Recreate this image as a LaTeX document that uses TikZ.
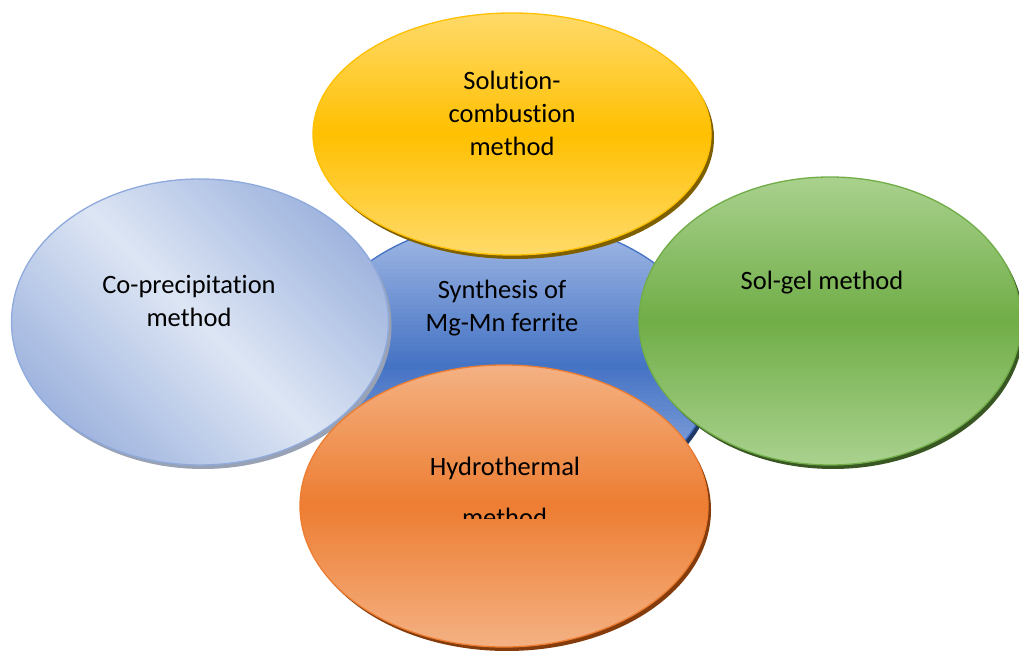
\documentclass[tikz,border=0pt]{standalone}
\usepackage{fontspec}
\setmainfont{Carlito}[Ligatures={NoCommon}]
\usetikzlibrary{shapes.geometric}
\definecolor{cbline}{HTML}{4472C4}
\definecolor{cbtop}{HTML}{A6BCE6}
\definecolor{cbmid}{HTML}{4472C4}
\definecolor{cbsh}{HTML}{203864}
\definecolor{lbline}{HTML}{8FAADC}
\definecolor{lbdark}{HTML}{9EB3DE}
\definecolor{lblight}{HTML}{DDE6F4}
\definecolor{lbsh}{HTML}{98A2B4}
\definecolor{yline}{HTML}{FFC000}
\definecolor{ytop}{HTML}{FFDA6A}
\definecolor{ymid}{HTML}{FFC000}
\definecolor{ysh}{HTML}{7F6000}
\definecolor{gline}{HTML}{70AD47}
\definecolor{gtop}{HTML}{A9D18E}
\definecolor{gmid}{HTML}{70AD47}
\definecolor{gsh}{HTML}{385723}
\definecolor{oline}{HTML}{ED7D31}
\definecolor{otop}{HTML}{F4B183}
\definecolor{omid}{HTML}{ED7D31}
\definecolor{osh}{HTML}{843C0C}
\tikzset{
  blob/.style={ellipse, inner sep=0pt, outer sep=0pt, line width=1.3pt},
  lbl/.style={font=\fontsize{26.5}{33}\selectfont, align=center, anchor=base, text=black, inner sep=0pt},
  shadowfill/.style={fill=#1, xshift=3pt, yshift=-4pt}
}
% vertical light-dark-light gradient inside an ellipse: cx, cy, rx, ry, outer colour, middle colour
\newcommand\myvgrad[6]{%
  \begin{scope}
    \clip (#1,#2) ellipse [x radius=#3, y radius=#4];
    \foreach \k in {0,...,71}{%
      \pgfmathsetmacro\ya{#2+#4-(2*#4/72)*\k}%
      \pgfmathsetmacro\yb{\ya-2*#4/72-1}%
      \pgfmathtruncatemacro\pp{100*(1-abs(2*(\k+0.5)/72-1))}%
      \fill[#6!\pp!#5] (#1-#3-2,\ya) rectangle (#1+#3+2,\yb);
    }
  \end{scope}}
% diagonal gradient (dark at top-right and bottom-left): cx, cy, rx, ry, outer colour, middle colour
\newcommand\mydgrad[6]{%
  \begin{scope}
    \clip (#1,#2) ellipse [x radius=#3, y radius=#4];
    \foreach \k in {0,...,71}{%
      \pgfmathsetmacro\sa{-170+(340/72)*\k}%
      \pgfmathsetmacro\sb{\sa+340/72+1}%
      \pgfmathtruncatemacro\pp{100*(1-abs(2*(\k+0.5)/72-1))}%
      \fill[#6!\pp!#5, rotate around={45:(#1,#2)}] (#1+\sa,#2-320) rectangle (#1+\sb,#2+320);
    }
  \end{scope}}
\begin{document}
\begin{tikzpicture}[x=1pt,y=1pt]
\fill[white] (0,0) rectangle (1019,652);
\useasboundingbox (0,0) rectangle (1019,652);
% centre
\fill[shadowfill=cbsh] (511,286) ellipse [x radius=202, y radius=146];
\myvgrad{511}{286}{202}{146}{cbtop}{cbmid}
\node[blob, draw=cbline, minimum width=404pt, minimum height=292pt] (centre) at (511,286) {};
\node[lbl] (tcentre) at (502,320) {Synthesis of\\Mg-Mn ferrite};
% left
\fill[shadowfill=lbsh] (200,330) ellipse [x radius=188.5, y radius=143];
\mydgrad{200}{330}{188.5}{143}{lbdark}{lblight}
\node[blob, draw=lbline, minimum width=377pt, minimum height=286pt] (left) at (200,330) {};
\node[lbl] (tleft) at (189,325) {Co-precipitation\\method};
% top
\fill[shadowfill=ysh] (512,518) ellipse [x radius=199, y radius=121];
\myvgrad{512}{518}{199}{121}{ytop}{ymid}
\node[blob, draw=yline, minimum width=398pt, minimum height=242pt] (top) at (512,518) {};
\node[lbl] (ttop) at (512,496) {Solution-\\combustion\\method};
% right
\fill[shadowfill=gsh] (830,331) ellipse [x radius=191, y radius=144];
\myvgrad{830}{331}{191}{144}{gtop}{gmid}
\node[blob, draw=gline, minimum width=382pt, minimum height=288pt] (right) at (830,331) {};
\node[lbl] (tright) at (822,362) {Sol-gel method};
% bottom
\fill[shadowfill=osh] (504,146) ellipse [x radius=204, y radius=141];
\myvgrad{504}{146}{204}{141}{otop}{omid}
\node[blob, draw=oline, minimum width=408pt, minimum height=282pt] (bottom) at (504,146) {};
\node[lbl] (tbottom) at (505,176) {Hydrothermal};
\begin{scope}
  \clip (300,133) rectangle (710,250);
  \node[lbl] (tbottom2) at (504.5,125) {method};
\end{scope}
\end{tikzpicture}
\end{document}
